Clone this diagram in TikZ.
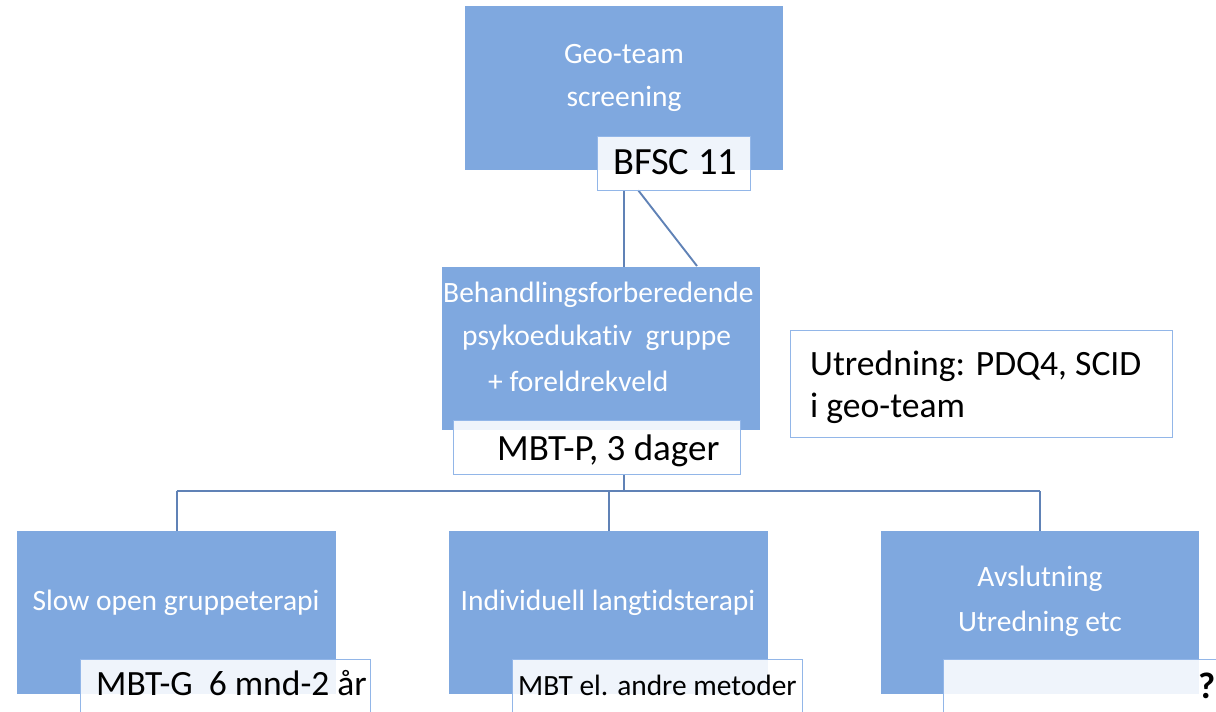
\documentclass[tikz,border=0pt]{standalone}
\usepackage{fontspec}
\setmainfont{Carlito}[Ligatures=NoCommon]
\definecolor{boxblue}{RGB}{127,168,223}
\definecolor{linkblue}{RGB}{96,130,182}
\definecolor{lblborder}{RGB}{146,182,232}
\tikzset{
  bluebox/.style={draw=none, fill=boxblue, minimum width=#1, inner sep=0pt, anchor=north west},
  wtext/.style={text=white, font=\fontsize{29.5}{34}\selectfont, inner sep=0pt},
  lbl/.style={draw=lblborder, line width=1.2pt, fill=white, fill opacity=0.88, text opacity=1, inner sep=0pt, anchor=north west},
  btext/.style={text=black, font=\fontsize{37}{42}\selectfont, inner sep=0pt, anchor=base west},
  link/.style={draw=linkblue, line width=1.9pt}
}
\begin{document}
\begin{tikzpicture}[x=1pt,y=-1pt]
\useasboundingbox (0,0) rectangle (1216,712);
% blue boxes
\node[bluebox=318pt, minimum height=164pt] (geo) at (465,6) {};
\node[bluebox=318pt, minimum height=163pt] (mid) at (442,267) {};
\node[bluebox=319pt, minimum height=163pt] (b1) at (17,531) {};
\node[bluebox=319pt, minimum height=163pt] (b2) at (449,531) {};
\node[bluebox=318pt, minimum height=163pt] (b3) at (881,531) {};
% white texts
\node[wtext] (geot1) at (624,54) {Geo-team};
\node[wtext] (geot2) at (624,99) {screening};
\node[wtext, anchor=west] (midt1) at (443,295) {Behandlingsforberedende};
\node[wtext, anchor=west] (midt2) at (462,338) {psykoedukativ\ \ gruppe};
\node[wtext, anchor=west] (midt3) at (488,381) {+ foreldrekveld};
\node[wtext] (b1t) at (176,603) {Slow open gruppeterapi};
\node[wtext] (b2t) at (608,603) {Individuell langtidsterapi};
\node[wtext] (b3t1) at (1040,579) {Avslutning};
\node[wtext] (b3t2) at (1040,624) {Utredning etc};
% connectors
\coordinate (d1) at (638,190);
\coordinate (d2) at (697,266);
\coordinate (j) at (624,491);
\draw[link] (geo.center |- 0,190) -- (geo.center |- mid.north);
\draw[link] (d1) -- (d2);
\draw[link] (624,474) -- (j);
\draw[link] (b1.north |- j) -- (b3.north |- j);
\draw[link] (b1.north |- j) -- (b1.north);
\draw[link] (b2.north |- j) -- (b2.north);
\draw[link] (b3.north |- j) -- (b3.north);
% label boxes
\node[lbl, minimum width=153pt, minimum height=54pt] (bfsc) at (597,136) {};
\node[btext, font=\fontsize{38.5}{44}\selectfont] (bfsct) at (613,174) {BFSC 11};
\node[lbl, minimum width=287pt, minimum height=54pt] (mbtp) at (453,420) {};
\node[btext] (mbtpt) at (497,460) {MBT-P, 3 dager};
\node[lbl, minimum width=290pt, minimum height=60pt] (l1) at (80,659) {};
\node[btext, font=\fontsize{35.5}{40}\selectfont] (l1t) at (96,695) {MBT-G\ \ 6 mnd-2 år};
\node[lbl, minimum width=290pt, minimum height=60pt] (l2) at (512,659) {};
\node[btext, font=\fontsize{29.4}{34}\selectfont] (l2t) at (518,695) {MBT el. andre metoder};
\node[lbl, minimum width=300pt, minimum height=60pt] (l3) at (943,659) {};
\node[btext, font=\bfseries\fontsize{37}{42}\selectfont] (l3t) at (1198,698) {?};
% side box
\node[draw=lblborder, line width=1.2pt, fill=white, minimum width=382pt, minimum height=107pt, anchor=north west, inner sep=0pt] (utr) at (790,330) {};
\node[btext, font=\fontsize{35.6}{40}\selectfont] (utrt1) at (810,375) {Utredning: PDQ4, SCID};
\node[btext, font=\fontsize{35.6}{40}\selectfont] (utrt2) at (810,417) {i geo-team};
\end{tikzpicture}
\end{document}
